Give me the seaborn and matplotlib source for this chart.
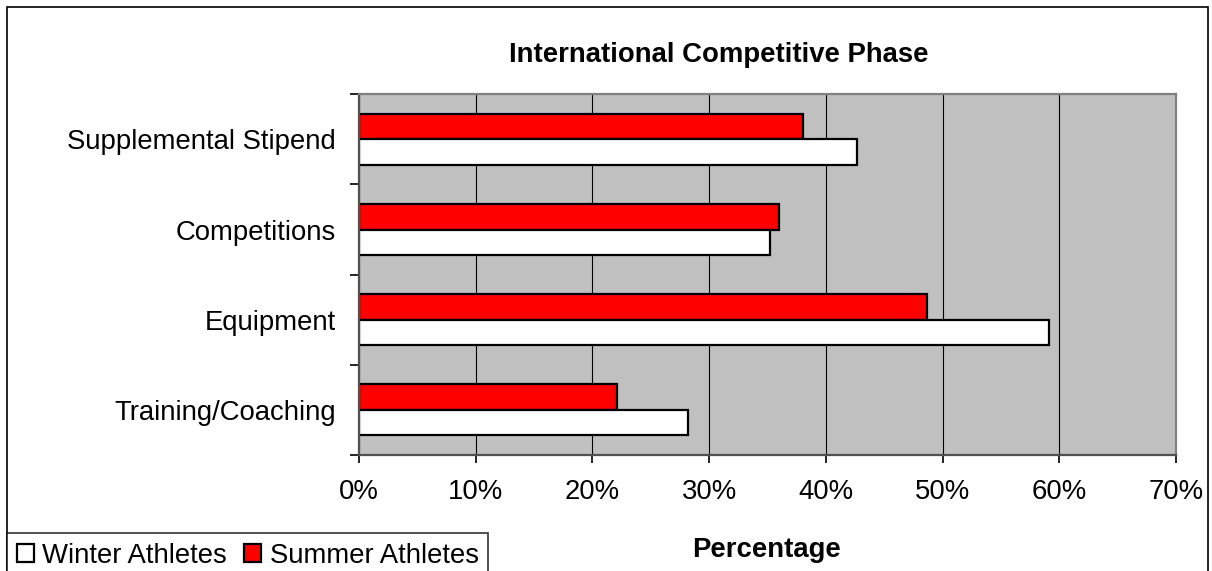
import matplotlib
matplotlib.use("Agg")
import matplotlib.pyplot as plt
from matplotlib.patches import Patch, Rectangle
import seaborn as sns
import pandas as pd

categories = ["Supplemental Stipend", "Competitions", "Equipment", "Training/Coaching"]
winter = [42.7, 35.2, 59.1, 28.2]
summer = [38.0, 36.0, 48.7, 22.1]
series_names = ["Winter Athletes", "Summer Athletes"]
x_ticks = [0, 10, 20, 30, 40, 50, 60, 70]
x_tick_labels = ["0%", "10%", "20%", "30%", "40%", "50%", "60%", "70%"]
title = "International Competitive Phase"
x_label = "Percentage"

sns.set_style("white")
plt.rcParams["font.family"] = ["Liberation Sans", "DejaVu Sans"]
plt.rcParams["text.color"] = "black"
plt.rcParams["xtick.color"] = "black"
plt.rcParams["ytick.color"] = "black"
plt.rcParams["xtick.labelcolor"] = "black"
plt.rcParams["ytick.labelcolor"] = "black"
FS = 19.8

df = pd.DataFrame({
    "category": categories * 2,
    "value": winter + summer,
    "group": [series_names[0]] * len(categories) + [series_names[1]] * len(categories),
})

W, H = 1212, 571
fig = plt.figure(figsize=(W / 100, H / 100), dpi=100)
fig.patch.set_facecolor("white")

left, right, top, bottom = 359, 1176, 94.3, 455
ax = fig.add_axes([left / W, 1 - bottom / H, (right - left) / W, (bottom - top) / H])
ax.set_facecolor("#C0C0C0")

palette = {"Winter Athletes": "#FFFFFF", "Summer Athletes": "#FF0000"}
sns.barplot(data=df, y="category", x="value", hue="group", order=categories,
            hue_order=["Summer Athletes", "Winter Athletes"], palette=palette,
            orient="h", width=0.565, edgecolor="black", linewidth=1.6,
            saturation=1, errorbar=None, legend=False, ax=ax)

ax.set_xlim(0, 70)
ax.set_ylim(len(categories) - 0.5, -0.5)
ax.set_xticks(x_ticks)
ax.set_xticklabels(x_tick_labels, fontsize=FS, color="black")
ax.set_yticks(range(len(categories)))
ax.set_yticklabels(categories, fontsize=FS, color="black")
ax.set_yticks([i - 0.5 for i in range(len(categories) + 1)], minor=True)
ax.tick_params(axis="y", which="major", left=True, length=0, pad=16.5)
ax.tick_params(axis="y", which="minor", left=True, length=6.5, width=1.2,
               color="black", direction="out")
ax.tick_params(axis="x", which="major", bottom=True, length=5.5, width=1.2,
               color="black", direction="out", pad=12)
ax.set_xlabel("")
ax.set_ylabel("")
ax.grid(axis="x", color="black", linewidth=0.8)
ax.grid(axis="y", visible=False)
ax.set_axisbelow(True)

for s in ["top", "right"]:
    ax.spines[s].set_color("#808080")
    ax.spines[s].set_linewidth(1.6)
for s in ["left", "bottom"]:
    ax.spines[s].set_color("#505050")
    ax.spines[s].set_linewidth(1.6)

fig.text(718.5 / W, 1 - 62.3 / H, title, ha="center", va="baseline",
         fontsize=FS, fontweight="bold", color="black")
fig.text(767 / W, 1 - 557.3 / H, x_label, ha="center", va="baseline",
         fontsize=FS, fontweight="bold", color="black")

# outer chart frame
fig.add_artist(Rectangle((7 / W, -0.1), (1207.5 - 7) / W, 1 - 6.5 / H + 0.1,
                         transform=fig.transFigure, fill=False,
                         edgecolor="black", linewidth=1.2))

handles = [Patch(facecolor=palette[n], edgecolor="black", linewidth=1.6) for n in series_names]
leg = fig.legend(handles, series_names, loc="upper left",
                 bbox_to_anchor=(7 / W, 1 - 533 / H), bbox_transform=fig.transFigure,
                 ncol=2, fontsize=FS, frameon=True, fancybox=False,
                 handlelength=0.62, handleheight=0.62, handletextpad=0.32,
                 columnspacing=0.6, borderpad=0.35, borderaxespad=0)
for t in leg.get_texts():
    t.set_color("black")
leg.get_frame().set_edgecolor("black")
leg.get_frame().set_linewidth(1.2)

fig.savefig("out.png", dpi=100, facecolor="white")
